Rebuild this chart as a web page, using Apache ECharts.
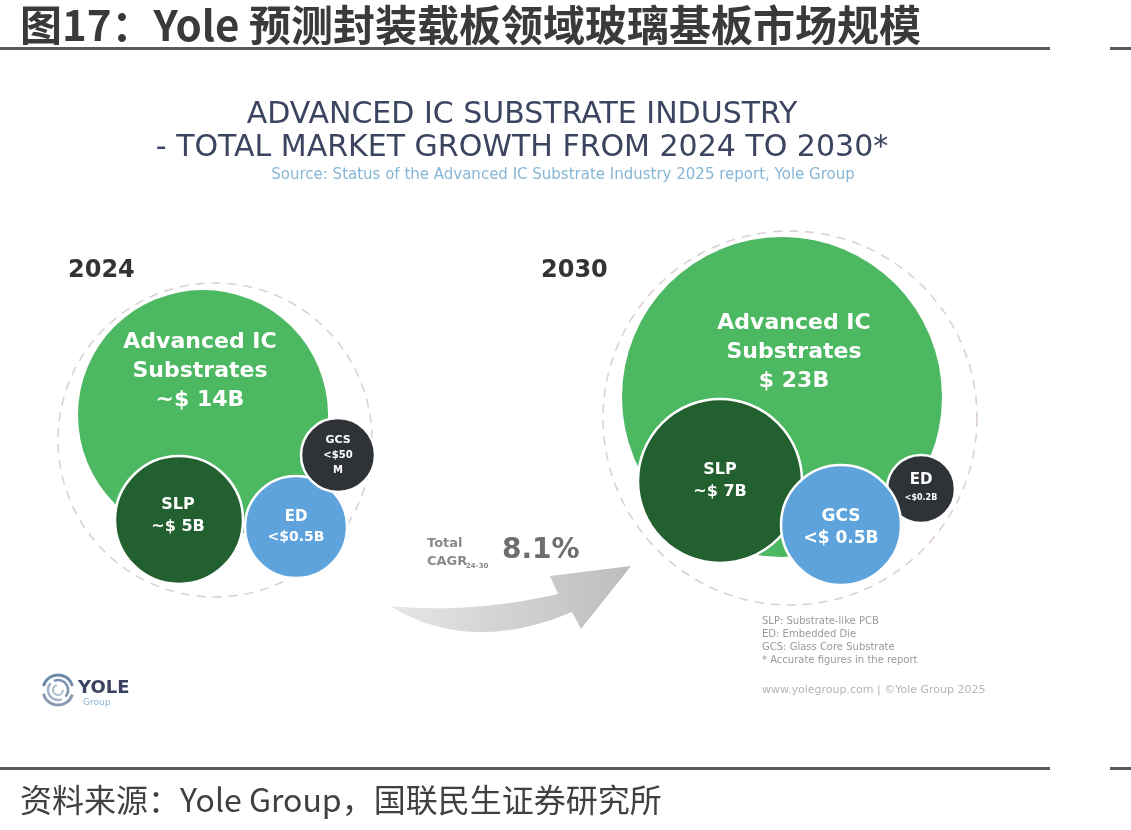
<!DOCTYPE html>
<html>
<head>
<meta charset="utf-8">
<script src="https://cdn.jsdelivr.net/npm/echarts@6/dist/echarts.min.js"></script>
<style>
html, body { margin: 0; padding: 0; background: #fff; }
#main { width: 1131px; height: 830px; }
</style>
</head>
<body>
<div id="main"></div>
<script>
// market data (US$ billions) read from the Yole infographic
var years = ['2024', '2030'];
var segments = ['Advanced IC\nSubstrates', 'SLP', 'ED', 'GCS'];
var value2024 = [14, 5, 0.5, 0.05];
var label2024 = ['~$ 14B', '~$ 5B', '<$0.5B', '<$50\nM'];
var value2030 = [23, 7, 0.2, 0.5];
var label2030 = ['$ 23B', '~$ 7B', '<$0.2B', '<$ 0.5B'];
var cagr = '8.1%';
var notes = ['SLP: Substrate-like PCB', 'ED: Embedded Die', 'GCS: Glass Core Substrate', '* Accurate figures in the report'];

// bubble layout (pixel space): [cx, cy, r], label font sizes
var ring2024 = [215, 440, 157];
var pos2024 = [[203, 415, 125], [179, 520, 64], [296, 527, 51], [338, 455, 37]];
var font2024 = [[22, 22, 29, -44, -3], [16, 16, 22, -4, -1], [15, 14, 20, 0, 0], [11, 10, 15, 0, 0]];
var color2024 = ['#4cb862', '#22602f', '#5fa3dc', '#2f3338'];
var ring2030 = [790, 418, 187];
var pos2030 = [[782, 397, 160], [720, 481, 82], [921, 489, 34], [841, 525, 60]];
var font2030 = [[22, 22, 29, -45, 12], [16, 16, 22, 0, 0], [15, 8, 17, 0, 0], [17, 17, 22, 3, 0]];
var color2030 = ['#4cb862', '#22602f', '#2f3338', '#5fa3dc'];

var myChart = echarts.init(document.getElementById('main'));

function bubbleData(pos, fonts, colors, labels) {
    var list = [];
    for (var i = 0; i < segments.length; i++) {
        var f = fonts[i];
        list.push({
            name: segments[i],
            value: [pos[i][0], pos[i][1]],
            symbolSize: pos[i][2] * 2,
            itemStyle: {
                color: colors[i],
                opacity: 1,
                borderColor: '#fff',
                borderWidth: i === 0 ? 0 : 2.5
            },
            label: {
                show: true,
                position: 'inside',
                offset: [f[4], f[3]],
                formatter: '{a|' + segments[i].replace('\n', '}\n{a|') + '}\n{b|' + labels[i].replace('\n', '}\n{b|') + '}',
                rich: {
                    a: { fontSize: f[0], fontWeight: 'bold', color: '#fff', fontFamily: 'DejaVu Sans', lineHeight: f[2], align: 'center' },
                    b: { fontSize: f[1], fontWeight: 'bold', color: '#fff', fontFamily: 'DejaVu Sans', lineHeight: f[2], align: 'center' }
                }
            }
        });
    }
    return list;
}

function ringData(r) {
    return [{
        value: [r[0], r[1]],
        symbolSize: r[2] * 2,
        itemStyle: {
            color: 'rgba(0,0,0,0)',
            opacity: 1,
            borderColor: '#ddd0d4',
            borderWidth: 1.6,
            borderType: [9, 7]
        }
    }];
}

// curved arrow outline from two quadratic curves
function quad(p0, c, p1, n) {
    var pts = [];
    for (var i = 0; i <= n; i++) {
        var t = i / n;
        pts.push([
            (1 - t) * (1 - t) * p0[0] + 2 * (1 - t) * t * c[0] + t * t * p1[0],
            (1 - t) * (1 - t) * p0[1] + 2 * (1 - t) * t * c[1] + t * t * p1[1]
        ]);
    }
    return pts;
}
var arrowPts = quad([390, 606], [470, 614], [558, 594], 20)
    .concat([[550, 576], [631, 566], [581, 629]])
    .concat(quad([572, 612], [470, 655], [390, 606], 20));

function txt(x, y, s, font, fill, align) {
    return {
        type: 'text', x: x, y: y, silent: true,
        style: { text: s, font: font, fill: fill, textAlign: align || 'left', textVerticalAlign: 'middle' }
    };
}

var graphics = [
    txt(20, 25, '图17：Yole 预测封装载板领域玻璃基板市场规模', 'bold 42px "Noto Sans CJK SC"', '#3a3a3a'),
    { type: 'rect', shape: { x: 0, y: 47, width: 1050, height: 3 }, style: { fill: '#5a5a5a' } },
    { type: 'rect', shape: { x: 1110, y: 47, width: 21, height: 3 }, style: { fill: '#5a5a5a' } },
    { type: 'rect', shape: { x: 0, y: 767, width: 1050, height: 3 }, style: { fill: '#5a5a5a' } },
    { type: 'rect', shape: { x: 1110, y: 767, width: 21, height: 3 }, style: { fill: '#5a5a5a' } },
    txt(20, 800, '资料来源：Yole Group，国联民生证券研究所', '32px "Noto Sans CJK SC"', '#404040'),

    txt(522, 115, 'ADVANCED IC SUBSTRATE INDUSTRY', '30px "DejaVu Sans"', '#3c4560', 'center'),
    txt(522, 148, '- TOTAL MARKET GROWTH FROM 2024 TO 2030*', '30px "DejaVu Sans"', '#3c4560', 'center'),
    txt(563, 175, 'Source: Status of the Advanced IC Substrate Industry 2025 report, Yole Group', '15px "DejaVu Sans"', '#86b6d6', 'center'),

    txt(68, 271, years[0], 'bold 24px "DejaVu Sans"', '#333333'),
    txt(541, 271, years[1], 'bold 24px "DejaVu Sans"', '#333333'),

    {
        type: 'polygon', silent: true,
        shape: { points: arrowPts },
        style: {
            fill: new echarts.graphic.LinearGradient(0, 0, 1, 0, [
                { offset: 0, color: '#e6e6e6' },
                { offset: 1, color: '#bdbdbd' }
            ])
        }
    },
    txt(427, 544, 'Total', 'bold 13px "DejaVu Sans"', '#8a8a8a'),
    txt(427, 562, 'CAGR', 'bold 13px "DejaVu Sans"', '#8a8a8a'),
    txt(466, 566, '24-30', 'bold 7px "DejaVu Sans"', '#8a8a8a'),
    txt(502, 551, cagr, 'bold 28px "DejaVu Sans"', '#6e6e6e'),

    txt(762, 690, 'www.yolegroup.com | ©Yole Group 2025', '11px "DejaVu Sans"', '#b5b5b5'),

    { type: 'arc', shape: { cx: 58, cy: 690, r: 15, startAngle: 0.3, endAngle: 2.9 }, style: { stroke: '#8a9ab0', lineWidth: 3, fill: null } },
    { type: 'arc', shape: { cx: 58, cy: 690, r: 15, startAngle: 3.4, endAngle: 6.0 }, style: { stroke: '#6f8aa8', lineWidth: 3, fill: null } },
    { type: 'arc', shape: { cx: 58, cy: 690, r: 10, startAngle: 1.2, endAngle: 3.9 }, style: { stroke: '#9fb3c8', lineWidth: 2.5, fill: null } },
    { type: 'arc', shape: { cx: 58, cy: 690, r: 10, startAngle: 4.3, endAngle: 7.0 }, style: { stroke: '#7c93ad', lineWidth: 2.5, fill: null } },
    { type: 'arc', shape: { cx: 58, cy: 690, r: 5, startAngle: 0, endAngle: 4.5 }, style: { stroke: '#a9bccd', lineWidth: 2, fill: null } },
    txt(78, 688, 'YOLE', 'bold 18px "DejaVu Sans"', '#3a4262'),
    txt(83, 703, 'Group', '9px "DejaVu Sans"', '#86b6d6')
];
for (var n = 0; n < notes.length; n++) {
    graphics.push(txt(762, 621 + n * 13, notes[n], '10px "DejaVu Sans"', '#9a9a9a'));
}

var option = {
    backgroundColor: '#ffffff',
    animation: false,
    grid: { left: 0, right: 0, top: 0, bottom: 0 },
    xAxis: { type: 'value', min: 0, max: 1131, show: false },
    yAxis: { type: 'value', min: 0, max: 830, inverse: true, show: false },
    graphic: { elements: graphics },
    series: [
        { name: 'ring2024', type: 'scatter', silent: true, symbol: 'circle', data: ringData(ring2024), z: 1 },
        { name: 'ring2030', type: 'scatter', silent: true, symbol: 'circle', data: ringData(ring2030), z: 1 },
        { name: years[0], type: 'scatter', silent: true, symbol: 'circle', data: bubbleData(pos2024, font2024, color2024, label2024), z: 2 },
        { name: years[1], type: 'scatter', silent: true, symbol: 'circle', data: bubbleData(pos2030, font2030, color2030, label2030), z: 2 }
    ]
};
myChart.setOption(option);
</script>
</body>
</html>
